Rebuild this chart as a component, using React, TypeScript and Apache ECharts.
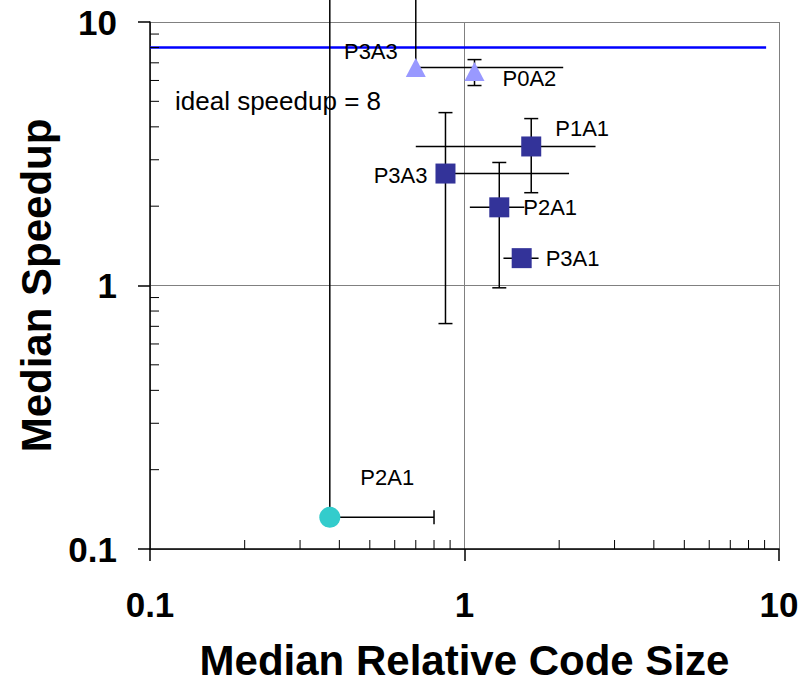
import React, { useEffect, useRef } from "react";
import * as echarts from "echarts";

// ---- data ----
const squareNames = ["P1A1", "P3A3", "P2A1", "P3A1"];
const squareX = [1.63, 0.87, 1.29, 1.52];
const squareY = [3.37, 2.66, 1.98, 1.27];
const squareXLow = [0.7, 0.87, 1.04, 1.33];
const squareXHigh = [2.61, 2.15, 1.55, 1.72];
const squareYLow = [2.25, 0.717, 0.98, 1.27];
const squareYHigh = [4.3, 4.53, 2.93, 1.27];

const triangleNames = ["P3A3", "P0A2"];
const triangleX = [0.7, 1.076];
const triangleY = [6.72, 6.49];
const triangleXLow = [0.7, 1.076];
const triangleXHigh = [2.06, 1.076];
const triangleYLow = [6.72, 5.74];
const triangleYHigh = [20, 7.2];

const circleNames = ["P2A1"];
const circleX = [0.373];
const circleY = [0.132];
const circleXLow = [0.373];
const circleXHigh = [0.8];
const circleYLow = [0.132];
const circleYHigh = [20];

const idealSpeedup = 8;
const idealLineX = [0.1, 9.1];

const xMinorTicks = [0.2, 0.3, 0.4, 0.5, 0.6, 0.7, 0.8, 0.9, 2, 3, 4, 5, 6, 7, 8, 9];
const yMinorTicks = [0.2, 0.3, 0.4, 0.5, 0.6, 0.7, 0.8, 0.9, 2, 3, 4, 5, 6, 7, 8, 9];

const FONT = 'Arial, "Liberation Sans", sans-serif';

function rows(x: number[], y: number[], xl: number[], xh: number[], yl: number[], yh: number[]) {
  return x.map((v, i) => [v, y[i], xl[i], xh[i], yl[i], yh[i]]);
}

function errorRenderer(hCap: boolean) {
  return (_params: any, api: any) => {
    const x = api.value(0);
    const y = api.value(1);
    const xl = api.value(2);
    const xh = api.value(3);
    const yl = api.value(4);
    const yh = api.value(5);
    const p = api.coord([x, y]);
    const pxl = api.coord([xl, y]);
    const pxh = api.coord([xh, y]);
    const pyl = api.coord([x, yl]);
    const pyh = api.coord([x, yh]);
    const style = { stroke: "#000", lineWidth: 1.5 };
    const cap = 7;
    const children: any[] = [];
    if (xh !== xl) {
      children.push({ type: "line", shape: { x1: pxl[0], y1: p[1], x2: pxh[0], y2: p[1] }, style });
      if (hCap) {
        if (xl !== x) children.push({ type: "line", shape: { x1: pxl[0], y1: p[1] - cap, x2: pxl[0], y2: p[1] + cap }, style });
        if (xh !== x) children.push({ type: "line", shape: { x1: pxh[0], y1: p[1] - cap, x2: pxh[0], y2: p[1] + cap }, style });
      }
    }
    if (yh !== yl) {
      children.push({ type: "line", shape: { x1: p[0], y1: pyl[1], x2: p[0], y2: pyh[1] }, style });
      if (yl !== y) children.push({ type: "line", shape: { x1: p[0] - cap, y1: pyl[1], x2: p[0] + cap, y2: pyl[1] }, style });
      if (yh !== y) children.push({ type: "line", shape: { x1: p[0] - cap, y1: pyh[1], x2: p[0] + cap, y2: pyh[1] }, style });
    }
    return { type: "group", children };
  };
}

const labelStyle = { color: "#000", fontSize: 22, fontFamily: FONT, distance: 0 };

const squarePlacement: any[] = [
  { position: "right", offset: [14, -18] },
  { position: "left", offset: [-8, 2] },
  { position: "right", offset: [14, 0] },
  { position: "right", offset: [14, 0] },
];
const trianglePlacement: any[] = [
  { position: "left", offset: [-8, -16] },
  { position: "right", offset: [18, 7] },
];
const circlePlacement: any[] = [{ position: "right", offset: [20, -40] }];

function points(names: string[], x: number[], y: number[], placement: any[]) {
  return names.map((n, i) => ({
    name: n,
    value: [x[i], y[i]],
    label: { show: true, formatter: n, ...labelStyle, ...placement[i] },
  }));
}

export default function App() {
  const ref = useRef<HTMLDivElement>(null);
  useEffect(() => {
    const chart = echarts.init(ref.current!, null, { renderer: "svg" });
    const axisCommon = {
      type: "log" as const,
      logBase: 10,
      min: 0.1,
      max: 10,
      nameLocation: "middle" as const,
      nameTextStyle: { fontSize: 42, fontWeight: "bold" as const, color: "#000", fontFamily: FONT },
      axisLine: { show: true, lineStyle: { color: "#000", width: 1.5 } },
      axisTick: { show: true, inside: false, length: 12, lineStyle: { color: "#000", width: 1.5 } },
      splitLine: { show: true, lineStyle: { color: "#808080", width: 1 } },
      minorTick: { show: false },
      axisLabel: {
        fontSize: 35,
        fontWeight: "bold" as const,
        color: "#000",
        fontFamily: FONT,
        formatter: (v: number) => String(v),
      },
    };
    const option: any = {
      animation: false,
      backgroundColor: "#fff",
      grid: { left: 150, right: 21, top: 22, bottom: 133, containLabel: false, outerBoundsMode: "none" },
      xAxis: {
        ...axisCommon,
        name: "Median Relative Code Size",
        nameGap: 90,
        axisLabel: { ...axisCommon.axisLabel, margin: 38 },
      },
      yAxis: {
        ...axisCommon,
        name: "Median Speedup",
        nameGap: 92,
        axisLabel: { ...axisCommon.axisLabel, margin: 33 },
      },
      graphic: [
        {
          type: "text",
          x: 175,
          y: 101,
          style: {
            text: "ideal speedup = " + idealSpeedup,
            fontSize: 26,
            fontFamily: FONT,
            fill: "#000",
            verticalAlign: "middle",
          },
        },
      ],
      series: [
        {
          type: "custom",
          name: "xMinor",
          clip: false,
          silent: true,
          z: 3,
          data: xMinorTicks.map((v) => [v, 0.1]),
          encode: { x: 0, y: 1 },
          renderItem: (_p: any, api: any) => {
            const pt = api.coord([api.value(0), api.value(1)]);
            return { type: "line", shape: { x1: pt[0], y1: pt[1], x2: pt[0], y2: pt[1] - 9 }, style: { stroke: "#000", lineWidth: 1 } };
          },
        },
        {
          type: "custom",
          name: "yMinor",
          clip: false,
          silent: true,
          z: 3,
          data: yMinorTicks.map((v) => [0.1, v]),
          encode: { x: 0, y: 1 },
          renderItem: (_p: any, api: any) => {
            const pt = api.coord([api.value(0), api.value(1)]);
            return { type: "line", shape: { x1: pt[0], y1: pt[1], x2: pt[0] + 9, y2: pt[1] }, style: { stroke: "#000", lineWidth: 1 } };
          },
        },
        {
          type: "line",
          name: "ideal",
          data: idealLineX.map((x) => [x, idealSpeedup]),
          showSymbol: false,
          symbol: "none",
          lineStyle: { color: "#0000FF", width: 2.5 },
          z: 2,
        },
        {
          type: "custom",
          name: "errSquare",
          clip: false,
          z: 4,
          data: rows(squareX, squareY, squareXLow, squareXHigh, squareYLow, squareYHigh),
          encode: { x: 0, y: 1 },
          renderItem: errorRenderer(false),
        },
        {
          type: "custom",
          name: "errTriangle",
          clip: false,
          z: 4,
          data: rows(triangleX, triangleY, triangleXLow, triangleXHigh, triangleYLow, triangleYHigh),
          encode: { x: 0, y: 1 },
          renderItem: errorRenderer(false),
        },
        {
          type: "custom",
          name: "errCircle",
          clip: false,
          z: 4,
          data: rows(circleX, circleY, circleXLow, circleXHigh, circleYLow, circleYHigh),
          encode: { x: 0, y: 1 },
          renderItem: errorRenderer(true),
        },
        {
          type: "scatter",
          name: "squares",
          symbol: "rect",
          symbolSize: 20,
          itemStyle: { color: "#333399", opacity: 1 },
          z: 6,
          data: points(squareNames, squareX, squareY, squarePlacement),
        },
        {
          type: "scatter",
          name: "triangles",
          symbol: "triangle",
          symbolSize: [20, 19],
          itemStyle: { color: "#9999FF", opacity: 1 },
          z: 6,
          data: points(triangleNames, triangleX, triangleY, trianglePlacement),
        },
        {
          type: "scatter",
          name: "circles",
          symbol: "circle",
          symbolSize: 21,
          itemStyle: { color: "#33CCCC", opacity: 1 },
          z: 6,
          data: points(circleNames, circleX, circleY, circlePlacement),
        },
      ],
    };
    chart.setOption(option);
    return () => chart.dispose();
  }, []);
  return <div ref={ref} style={{ position: "fixed", left: 0, top: 0, width: 800, height: 682 }} />;
}
